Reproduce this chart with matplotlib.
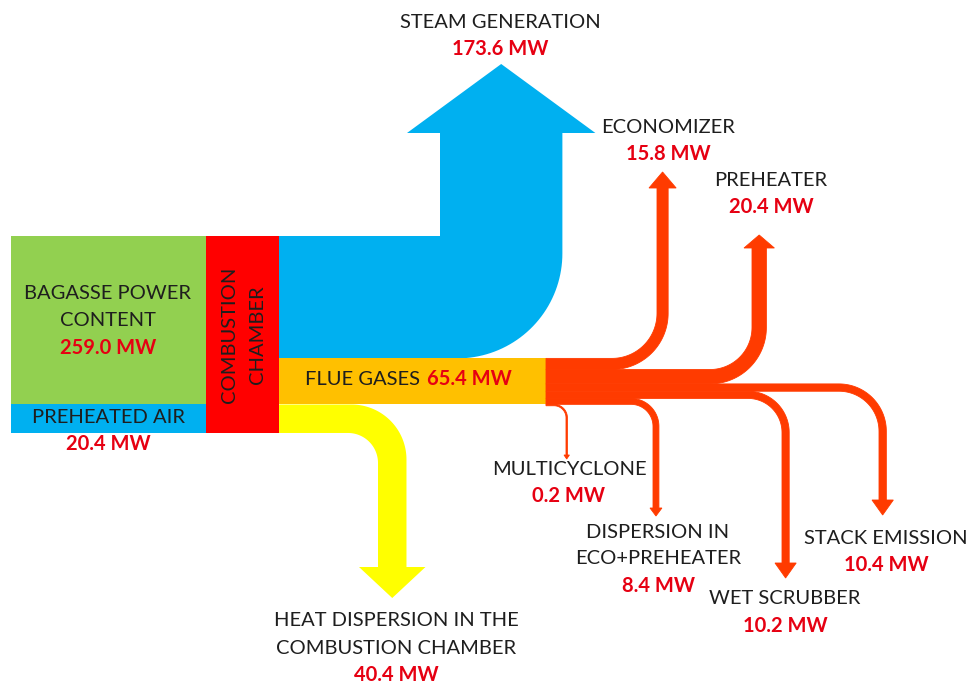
import matplotlib.pyplot as plt
import numpy as np
from matplotlib.patches import Polygon, Rectangle

plt.rcParams['font.family'] = ['Lato', 'DejaVu Sans']

# energy flows, MW
input_names = ["BAGASSE POWER\nCONTENT", "PREHEATED AIR"]
input_mw = [259.0, 20.4]

chamber_names = ["STEAM GENERATION", "FLUE GASES",
                 "HEAT DISPERSION IN THE\nCOMBUSTION CHAMBER"]
chamber_mw = [173.6, 65.4, 40.4]

flue_names = ["ECONOMIZER", "PREHEATER", "STACK EMISSION", "WET SCRUBBER",
              "DISPERSION IN\nECO+PREHEATER", "MULTICYCLONE"]
flue_mw = [15.8, 20.4, 10.4, 10.2, 8.4, 0.2]

# layout (pixels)
scale = 0.705          # px per MW
top = 236              # top of combustion chamber
x_in, x_ch, x_out = 11, 206, 279
x_hub = 546            # end of flue gas box
air_strip = 29         # height of the preheated air label strip

GREEN, BLUE, RED, ORANGE, YELLOW, FLUE = "#92D050", "#00B0F0", "#FF0000", "#FFC000", "#FFFF00", "#FF3B00"
TXT, VAL = "#1E1E1E", "#E60012"


def arc(cx, cy, r, a0, a1, n=40):
    t = np.radians(np.linspace(a0, a1, n))
    return np.column_stack([cx + r * np.cos(t), cy + r * np.sin(t)])


def band(x0, yt, w, xs, r_in, y_end, over, head, up=True, r_out=None):
    # horizontal band that turns up or down into an arrow (y grows downwards)
    if r_out is None:
        r_out = r_in + w
    yb = yt + w
    xl, xr = xs, xs + w
    if up:
        pts = [[x0, yt]]
        pts += list(arc(xl - r_in, yt - r_in, r_in, 90, 0))
        pts += [[xl, y_end], [xl - over, y_end], [xl + w / 2, y_end - head],
                [xr + over, y_end], [xr, y_end]]
        pts += list(arc(xr - r_out, yb - r_out, r_out, 0, 90))
        pts += [[x0, yb]]
    else:
        pts = [[x0, yt]]
        pts += list(arc(xr - r_out, yt + r_out, r_out, -90, 0))
        pts += [[xr, y_end], [xr + over, y_end], [xl + w / 2, y_end + head],
                [xl - over, y_end], [xl, y_end]]
        pts += list(arc(xl - r_in, yb + r_in, r_in, 0, -90))
        pts += [[x0, yb]]
    return np.array(pts)


fig = plt.figure(figsize=(9.68, 6.85), dpi=100)
ax = fig.add_axes([0, 0, 1, 1])
ax.set_xlim(0, 968)
ax.set_ylim(685, 0)
ax.axis("off")

total = sum(chamber_mw) * scale
bottom = top + total

# inputs
ax.add_patch(Rectangle((x_in, top), x_ch - x_in, total - air_strip, color=GREEN, lw=0))
ax.add_patch(Rectangle((x_in, bottom - air_strip), x_ch - x_in, air_strip, color=BLUE, lw=0))
ax.add_patch(Rectangle((x_ch, top), x_out - x_ch, total, color=RED, lw=0))

# chamber outputs
w_steam, w_flue, w_heat = [v * scale for v in chamber_mw]
y = top
ax.add_patch(Polygon(band(x_out, y, w_steam, 440, 0, 133, 33, 69, up=True, r_out=105),
                     color=BLUE, lw=0))
y += w_steam
ax.add_patch(Rectangle((x_out, y), x_hub - x_out, w_flue, color=ORANGE, lw=0))
y_flue = y
y += w_flue
ax.add_patch(Polygon(band(x_out, y, w_heat, 378, 30, 567, 19, 31, up=False, r_out=55),
                     color=YELLOW, lw=0))

# flue gas branches: shaft x, inner radius, shaft end, head overhang, head length, up
branch_layout = [
    (657, 45, 188, 8, 16, True),
    (752, 42, 248, 8, 13, True),
    (879, 40, 500, 7, 15, False),
    (782, 34, 563, 7, 15, False),
    (653, 22, 508, 3, 8, False),
    (566, 12, 455, 2, 4, False),
]
y = y_flue
for v, (xs, r, ye, ov, hd, up) in zip(flue_mw, branch_layout):
    w = max(v * scale, 1.4)
    ax.add_patch(Polygon(band(x_hub, y, w, xs, r, ye, ov, hd, up=up),
                         facecolor=FLUE, edgecolor=FLUE, lw=0.6))
    y += v * scale

fs = 14.5


def label(x, y0, name, value, dy=27):
    lines = name.split("\n")
    for i, ln in enumerate(lines):
        ax.text(x, y0 + i * dy, ln, ha="center", va="center", fontsize=fs, color=TXT)
    ax.text(x, y0 + len(lines) * dy, f"{value:.1f} MW", ha="center", va="center",
            fontsize=fs, color=VAL, fontweight="bold")


label(108, 293, input_names[0], input_mw[0], dy=27.5)
ax.text(108, 417, input_names[1], ha="center", va="center", fontsize=fs, color=TXT)
ax.text(108, 444, f"{input_mw[1]:.1f} MW", ha="center", va="center", fontsize=fs,
        color=VAL, fontweight="bold")
ax.text(230, top + total / 2, "COMBUSTION", rotation=90, ha="center", va="center",
        fontsize=fs, color=TXT)
ax.text(258, top + total / 2, "CHAMBER", rotation=90, ha="center", va="center",
        fontsize=fs, color=TXT)

label(500, 22, chamber_names[0], chamber_mw[0])
ax.text(420, 379, chamber_names[1], ha="right", va="center", fontsize=fs, color=TXT)
ax.text(427, 379, f"{chamber_mw[1]:.1f} MW", ha="left", va="center", fontsize=fs,
        color=VAL, fontweight="bold")
label(396, 621, chamber_names[2], chamber_mw[2])

flue_text = [(668, 127), (771, 180), (886, 538), (785, 599), (658, 532), (569, 469)]
for name, v, (tx, ty) in zip(flue_names, flue_mw, flue_text):
    label(tx, ty, name, v)

fig.savefig("out.png", dpi=100)
